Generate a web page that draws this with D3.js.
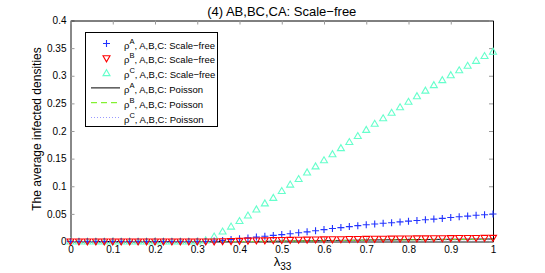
<!DOCTYPE html>
<html>
<head>
<meta charset="utf-8">
<script src="https://cdn.jsdelivr.net/npm/d3@7"></script>
<style>
  body { margin: 0; background: #fff; }
  text { font-family: "Liberation Sans", Arial, sans-serif; }
</style>
</head>
<body>
<div id="chart"></div>
<script>
// x values: lambda_33 from 0 to 1, step 0.02
var lambda = d3.range(0, 51).map(function(i) { return +(i * 0.02).toFixed(2); });

// scale-free, rho^A (blue +)
var sfA = [0,0,0,0,0,0,0,0,0,0,0,0,0,0,0,0,0,
  0.001,0.002,0.0035,0.005,0.0065,0.008,0.0095,0.011,0.0125,0.014,0.0158,0.0175,0.0195,
  0.0215,0.0235,0.0252,0.027,0.0287,0.0302,0.0316,0.033,0.034,0.0355,0.0368,0.038,
  0.0393,0.0405,0.0418,0.0435,0.0447,0.046,0.0475,0.0485,0.0498];
// scale-free, rho^B (red down triangle)
var sfB = [0,0,0,0,0,0,0,0,0,0,0,0,0,0,0,0,0,0,
  0.0004,0.0008,0.0012,0.0015,0.0018,0.0021,0.0024,0.0027,0.003,0.0032,0.0034,0.0036,
  0.0038,0.004,0.0042,0.0044,0.0046,0.0047,0.0049,0.005,0.0052,0.0053,0.0055,0.0056,
  0.0057,0.0059,0.006,0.0061,0.0062,0.0063,0.0064,0.0065,0.0066];
// scale-free, rho^C (aquamarine triangle)
var sfC = [0,0,0,0,0,0,0,0,0,0,0,0,0,0,0,0,
  0.002,0.009,0.018,0.027,0.037,0.047,0.058,0.069,0.079,0.0914,0.103,0.113,0.125,0.136,
  0.147,0.158,0.169,0.180,0.191,0.202,0.213,0.223,0.233,0.243,0.253,0.263,0.273,0.283,
  0.292,0.301,0.310,0.318,0.327,0.3357,0.3435];
// Poisson lines
var poA = [0,0,0,0,0,0,0,0,0,0,0,0,0,0,0,0,0,0,0,0,0,0,0,
  0.0002,0.0004,0.0006,0.0008,0.001,0.0012,0.0014,0.0016,0.0018,0.002,0.0022,0.0024,
  0.0026,0.0028,0.0029,0.0031,0.0032,0.0034,0.0035,0.0036,0.0038,0.0039,0.004,0.0041,
  0.0042,0.0043,0.0044,0.0045];
var poB = [0,0,0,0,0,0,0,0,0,0,0,0,0,0,0,0,0,0,0,0,0,0,0,
  0.0002,0.0003,0.0005,0.0007,0.0009,0.001,0.0012,0.0014,0.0015,0.0017,0.0019,0.002,
  0.0022,0.0024,0.0025,0.0026,0.0027,0.0029,0.003,0.0031,0.0032,0.0033,0.0034,0.0035,
  0.0036,0.0037,0.0037,0.0038];
var poC = [0,0,0,0,0,0,0,0,0,0,0,0,0,0,0,0,0,0,0,0,0,0,0,
  0.0001,0.0003,0.0004,0.0006,0.0007,0.0008,0.001,0.0011,0.0013,0.0014,0.0015,0.0017,
  0.0018,0.0019,0.002,0.0021,0.0022,0.0023,0.0024,0.0025,0.0026,0.0027,0.0028,0.0029,
  0.0029,0.003,0.003,0.0031];

var xTicks = [0, 0.1, 0.2, 0.3, 0.4, 0.5, 0.6, 0.7, 0.8, 0.9, 1];
var yTicks = [0, 0.05, 0.1, 0.15, 0.2, 0.25, 0.3, 0.35, 0.4];
var legendLabels = [
  ['A', ', A,B,C: Scale\u2212free'],
  ['B', ', A,B,C: Scale\u2212free'],
  ['C', ', A,B,C: Scale\u2212free'],
  ['A', ', A,B,C: Poisson'],
  ['B', ', A,B,C: Poisson'],
  ['C', ', A,B,C: Poisson']
];

var W = 545, H = 273;
var margin = { top: 20.5, right: 52, bottom: 31.5, left: 70.5 },
  width = W - margin.left - margin.right,
  height = H - margin.top - margin.bottom;

var svg = d3.select('#chart').append('svg')
  .attr('width', W)
  .attr('height', H);

var g = svg.append('g')
  .attr('transform', 'translate(' + margin.left + ',' + margin.top + ')');

var x = d3.scaleLinear().domain([0, 1]).range([0, width]);
var y = d3.scaleLinear().domain([0, 0.4]).range([height, 0]);

// axes box with inward ticks, matlab style
var fmt = function(d) { return d3.format('')(+d.toFixed(2)); };
var xAxis = g.append('g')
  .attr('transform', 'translate(0,' + height + ')')
  .call(d3.axisBottom(x).tickValues(xTicks).tickFormat(fmt).tickSizeInner(-4).tickSizeOuter(0).tickPadding(4));
var yAxis = g.append('g')
  .call(d3.axisLeft(y).tickValues(yTicks).tickFormat(fmt).tickSizeInner(-4).tickSizeOuter(0).tickPadding(4));
var xTop = g.append('g')
  .call(d3.axisTop(x).tickValues(xTicks).tickFormat('').tickSizeInner(-4).tickSizeOuter(0));
var yRight = g.append('g')
  .attr('transform', 'translate(' + width + ',0)')
  .call(d3.axisRight(y).tickValues(yTicks).tickFormat('').tickSizeInner(-4).tickSizeOuter(0));

[xAxis, yAxis].forEach(function(a) {
  a.select('.domain').attr('stroke', '#888').attr('stroke-width', 2);
  a.selectAll('.tick line').attr('stroke', '#999');
  a.selectAll('.tick text').attr('font-size', 10).attr('fill', '#000')
    .style('font-family', '"Liberation Sans", Arial, sans-serif');
});
[xTop, yRight].forEach(function(a) {
  a.select('.domain').attr('stroke', '#000').attr('stroke-width', 1);
  a.selectAll('.tick line').attr('stroke', '#999');
});

var plotG = g.append('g');

// poisson lines
var line = function(arr) {
  return d3.line()
    .x(function(d, i) { return x(lambda[i]); })
    .y(function(d) { return y(d); })(arr);
};
plotG.append('path').attr('d', line(poA)).attr('fill', 'none')
  .attr('stroke', '#000').attr('stroke-width', 1);
plotG.append('path').attr('d', line(poB)).attr('fill', 'none')
  .attr('stroke', '#66ee00').attr('stroke-width', 1).attr('stroke-dasharray', '6,4');
plotG.append('path').attr('d', line(poC)).attr('fill', 'none')
  .attr('stroke', '#9999ff').attr('stroke-width', 1).attr('stroke-dasharray', '1,2');

var plusPath = 'M-3.5,0H3.5M0,-3.5V3.5';
var downTri = 'M-3.5,-2.5L3.5,-2.5L0,3.5Z';
var upTri = 'M-3.5,2.5L3.5,2.5L0,-3.5Z';

function markers(arr, path, color) {
  plotG.append('g').selectAll('path')
    .data(arr)
    .enter()
    .append('path')
    .attr('d', path)
    .attr('transform', function(d, i) { return 'translate(' + x(lambda[i]) + ',' + y(d) + ')'; })
    .attr('fill', 'none')
    .attr('stroke', color)
    .attr('stroke-width', 1.1);
}
markers(sfC, upTri, '#66ffcc');
markers(sfA, plusPath, '#2233ff');
markers(sfB, downTri, '#ff0000');

// title and labels
svg.append('text')
  .attr('x', margin.left + width / 2).attr('y', 16)
  .attr('text-anchor', 'middle').attr('font-size', 13)
  .text('(4) AB,BC,CA: Scale\u2212free');

svg.append('text')
  .attr('transform', 'translate(41,' + (margin.top + height / 2 - 2) + ') rotate(-90)')
  .attr('text-anchor', 'middle').attr('font-size', 12)
  .text('The average infected densities');

var xl = svg.append('text')
  .attr('x', margin.left + width / 2 - 8).attr('y', 266)
  .attr('font-size', 13);
xl.append('tspan').text('\u03bb');
xl.append('tspan').attr('font-size', 10).attr('dy', 4).text('33');

// legend
var lg = svg.append('g');
lg.append('rect')
  .attr('x', 85.5).attr('y', 32.5).attr('width', 132).attr('height', 94)
  .attr('fill', '#fff').attr('stroke', '#000').attr('stroke-width', 1);

var rowY = d3.scaleLinear().domain([0, 5]).range([43.5, 117.5]);
var legendStyles = [
  { path: plusPath, color: '#2233ff' },
  { path: downTri, color: '#ff0000' },
  { path: upTri, color: '#66ffcc' },
  { color: '#000', dash: null },
  { color: '#66ee00', dash: '6,4' },
  { color: '#9999ff', dash: '1,2' }
];
legendStyles.forEach(function(s, i) {
  var yy = rowY(i);
  if (s.path) {
    lg.append('path').attr('d', s.path)
      .attr('transform', 'translate(106.5,' + yy + ')')
      .attr('fill', 'none').attr('stroke', s.color).attr('stroke-width', 1.1);
  } else {
    lg.append('line').attr('x1', 91).attr('x2', 120).attr('y1', yy).attr('y2', yy)
      .attr('stroke', s.color).attr('stroke-width', 1)
      .attr('stroke-dasharray', s.dash);
  }
  var t = lg.append('text').attr('x', 124).attr('y', yy + 5).attr('font-size', 9.5);
  t.append('tspan').text('\u03c1');
  t.append('tspan').attr('font-size', 7.5).attr('dy', -5).text(legendLabels[i][0]);
  t.append('tspan').attr('dy', 5).text(legendLabels[i][1]);
});
</script>
</body>
</html>
